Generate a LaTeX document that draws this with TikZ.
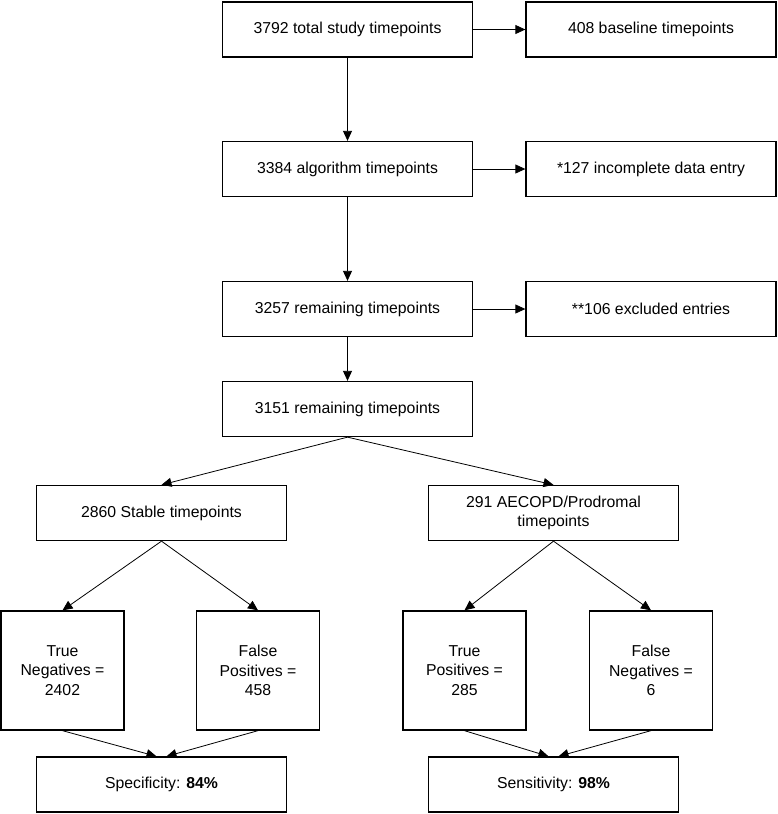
\documentclass[tikz,border=0pt]{standalone}
\usepackage{fontspec}
\setmainfont{Liberation Sans}
\usetikzlibrary{arrows.meta}
\begin{document}
\begin{tikzpicture}[x=1pt,y=-1pt,
  boxnode/.style={draw=black,line width=1.3pt,minimum width=250pt,minimum height=55pt,inner sep=0pt,align=center,
    font=\fontsize{15.8pt}{19.3pt}\selectfont},
  tallnode/.style={boxnode,minimum width=123pt,minimum height=119pt},
  conn/.style={draw=black,line width=0.8pt,-{Triangle[length=10pt,width=9pt]}}]
\useasboundingbox (0,0) rectangle (778,814);
\node[boxnode] (b1) at (347.5,29.5) {3792 total study timepoints};
\node[boxnode] (b2) at (651,29.5) {408 baseline timepoints};
\node[boxnode] (b3) at (347.5,169) {3384 algorithm timepoints};
\node[boxnode] (b4) at (651,169) {*127 incomplete data entry};
\node[boxnode] (b5) at (347.5,309) {3257 remaining timepoints};
\node[boxnode] (b6) at (651,309) {**106 excluded entries};
\node[boxnode] (b7) at (347.5,409) {3151 remaining timepoints};
\node[boxnode] (b8) at (161.5,513) {2860 Stable timepoints};
\node[boxnode] (b9) at (553.5,513) {291 AECOPD/Prodromal\\timepoints};
\node[tallnode] (tn) at (62.5,670.5) {True\\Negatives =\\2402};
\node[tallnode] (fp) at (258,670.5) {False\\Positives =\\458};
\node[tallnode] (tp) at (464.5,670.5) {True\\Positives =\\285};
\node[tallnode] (fn) at (651,670.5) {False\\Negatives =\\6};
\node[boxnode] (spec) at (161.5,784.5) {Specificity: \textbf{84\%}};
\node[boxnode] (sens) at (553.5,784.5) {Sensitivity: \textbf{98\%}};
\draw[conn] (b1) -- (b2);
\draw[conn] (b3) -- (b4);
\draw[conn] (b5) -- (b6);
\draw[conn] (b1) -- (b3);
\draw[conn] (b3) -- (b5);
\draw[conn] (b5) -- (b7);
\draw[conn] (b7.south) -- (b8.north);
\draw[conn] (b7.south) -- (b9.north);
\draw[conn] (b8.south) -- (tn.north);
\draw[conn] (b8.south) -- (fp.north);
\draw[conn] (b9.south) -- (tp.north);
\draw[conn] (b9.south) -- (fn.north);
\draw[conn] (tn.south) -- ([xshift=-5pt]spec.north);
\draw[conn] (fp.south) -- ([xshift=5pt]spec.north);
\draw[conn] (tp.south) -- ([xshift=-5pt]sens.north);
\draw[conn] (fn.south) -- ([xshift=5pt]sens.north);
\end{tikzpicture}
\end{document}
